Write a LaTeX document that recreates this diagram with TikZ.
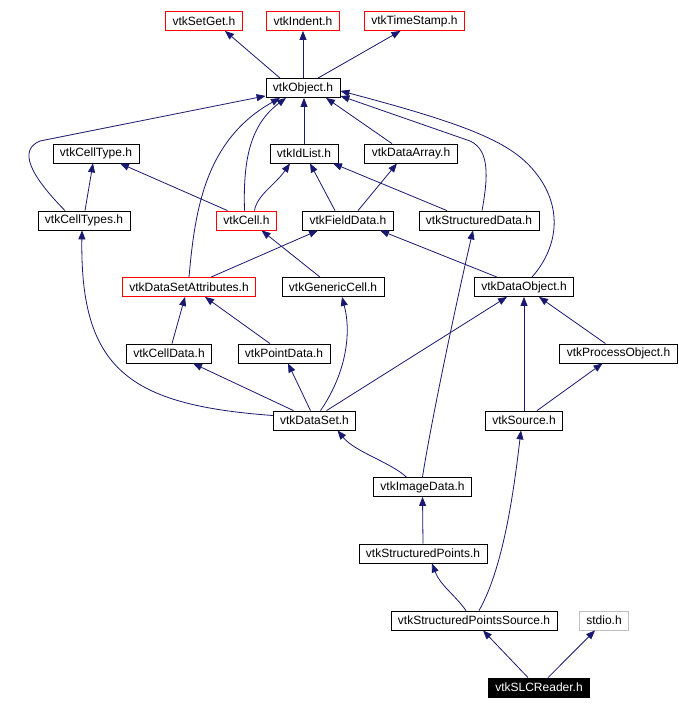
\documentclass[tikz,border=0pt]{standalone}
\usepackage{fontspec}
\setmainfont{Liberation Sans}
\usetikzlibrary{arrows.meta}
\definecolor{edgeblue}{HTML}{191970}
\definecolor{missred}{HTML}{FF0000}
\definecolor{sysgray}{HTML}{BFBFBF}

\begin{document}
\begin{tikzpicture}[
  x=1pt, y=-1pt, >=Stealth,
  hdrbox/.style={rectangle, draw=black, fill=white, line width=0.8pt, inner xsep=7pt, inner ysep=0pt, minimum height=19pt, text centered, font=\fontsize{12}{14}\selectfont},
  redbox/.style={hdrbox, draw=missred},
  sysbox/.style={hdrbox, draw=sysgray},
  rootbox/.style={hdrbox, fill=black, text=white},
  dep/.style={draw=edgeblue, line width=0.8pt, -{Triangle[length=9pt, width=7pt]}}
]

  % Canvas
  \fill[white] (0,0) rectangle (678,709);

  % ==================== TOP ROW ====================
  \node[redbox] (setget) at (204,21) {vtkSetGet.h};
  \node[redbox] (indent) at (303,21) {vtkIndent.h};
  \node[redbox] (timestamp) at (414.5,21) {vtkTimeStamp.h};
  \node[hdrbox] (obj) at (303,88) {vtkObject.h};

  % ==================== CORE CLASSES ====================
  \node[hdrbox] (celltype) at (96,153.5) {vtkCellType.h};
  \node[hdrbox] (idlist) at (304,153.5) {vtkIdList.h};
  \node[hdrbox] (dataarray) at (411,153.5) {vtkDataArray.h};

  \node[hdrbox] (celltypes) at (84,220.5) {vtkCellTypes.h};
  \node[redbox] (cell) at (246.5,220.5) {vtkCell.h};
  \node[hdrbox] (fielddata) at (348,220.5) {vtkFieldData.h};
  \node[hdrbox] (structdata) at (479,220.5) {vtkStructuredData.h};

  \node[redbox] (dsattr) at (189,287) {vtkDataSetAttributes.h};
  \node[hdrbox] (genericcell) at (333,287) {vtkGenericCell.h};
  \node[hdrbox] (dataobj) at (524,287) {vtkDataObject.h};

  \node[hdrbox] (celldata) at (169,353.5) {vtkCellData.h};
  \node[hdrbox] (pointdata) at (284,353.5) {vtkPointData.h};
  \node[hdrbox] (procobj) at (618.5,353.5) {vtkProcessObject.h};

  \node[hdrbox] (dataset) at (314.5,420.5) {vtkDataSet.h};
  \node[hdrbox] (source) at (524,420.5) {vtkSource.h};

  % ==================== IMAGE / READER ====================
  \node[hdrbox] (imagedata) at (422.5,487) {vtkImageData.h};
  \node[hdrbox] (structpts) at (423,553.5) {vtkStructuredPoints.h};
  \node[hdrbox] (spsource) at (474,620.5) {vtkStructuredPointsSource.h};
  \node[sysbox] (stdio) at (604,620.5) {stdio.h};
  \node[rootbox] (slcreader) at (539,687.5) {vtkSLCReader.h};

  % vtkObject includes
  \draw[dep] ([xshift=-23pt]obj.north) -- ([xshift=21pt]setget.south);
  \draw[dep] (obj.north) -- (indent.south);
  \draw[dep] ([xshift=15pt]obj.north) -- ([xshift=-14pt]timestamp.south);

  % into vtkObject
  \draw[dep] ([xshift=-19pt]celltypes.north) .. controls (30,175) and (18,150) .. (40,141) -- ([yshift=2pt]obj.south west);
  \draw[dep] (idlist.north) -- (idlist.north |- obj.south);
  \draw[dep] ([xshift=-19pt]dataarray.north) -- ([xshift=23pt]obj.south);
  \draw[dep] ([xshift=-2pt]cell.north) .. controls (243,160) and (250,125) .. ([xshift=-17pt]obj.south);
  \draw[dep] (dsattr.north) .. controls (195,210) and (205,140) .. ([xshift=-23pt]obj.south);
  \draw[dep] ([xshift=3pt]structdata.north) .. controls (488,178) and (490,150) .. (470,141) -- ([yshift=2pt]obj.south east);
  \draw[dep] ([xshift=8pt]dataobj.north) .. controls (560,245) and (562,205) .. (535,172) .. controls (512,143) and (470,125) .. ([yshift=7pt]obj.south east);

  % second row
  \draw[dep] ([xshift=1pt]celltypes.north) -- ([xshift=-3pt]celltype.south);
  \draw[dep] ([xshift=-19pt]cell.north) -- ([xshift=24pt]celltype.south);
  \draw[dep] ([xshift=8pt]cell.north) .. controls (257,195) and (275,185) .. ([xshift=-14pt]idlist.south);
  \draw[dep] ([xshift=-13pt]fielddata.north) -- ([xshift=6pt]idlist.south);
  \draw[dep] ([xshift=-32pt]structdata.north) -- ([xshift=29pt]idlist.south);
  \draw[dep] ([xshift=10pt]fielddata.north) -- ([xshift=-14pt]dataarray.south);

  % third row
  \draw[dep] ([xshift=22pt]dsattr.north) -- ([xshift=-30pt]fielddata.south);
  \draw[dep] ([xshift=-13pt]genericcell.north) -- ([xshift=15pt]cell.south);
  \draw[dep] ([xshift=-27pt]dataobj.north) -- ([xshift=32pt]fielddata.south);
  \draw[dep] (imagedata.north) .. controls (428,440) and (450,330) .. ([xshift=-6pt]structdata.south);

  % fourth row
  \draw[dep] ([xshift=3pt]celldata.north) -- ([xshift=-4pt]dsattr.south);
  \draw[dep] ([xshift=-14pt]pointdata.north) -- ([xshift=16pt]dsattr.south);
  \draw[dep] ([xshift=-13pt]procobj.north) -- ([xshift=15pt]dataobj.south);

  % vtkDataSet
  \draw[dep] ([xshift=6pt]dataset.north) .. controls (345,375) and (352,335) .. ([xshift=9pt]genericcell.south);
  \draw[dep] ([yshift=5pt]dataset.west) .. controls (130,405) and (80,370) .. ([xshift=-2pt]celltypes.south);
  \draw[dep] ([xshift=-21pt]dataset.north) -- ([xshift=24pt]celldata.south);
  \draw[dep] ([xshift=-4pt]dataset.north) -- ([xshift=4pt]pointdata.south);
  \draw[dep] ([xshift=12pt]dataset.north) -- ([xshift=-17pt]dataobj.south);

  % vtkSource
  \draw[dep] (source.north) -- (dataobj.south);
  \draw[dep] ([xshift=13pt]source.north) -- ([xshift=-16pt]procobj.south);

  % image data chain
  \draw[dep] ([xshift=-16pt]imagedata.north) .. controls (390,462) and (355,452) .. ([xshift=23pt]dataset.south);
  \draw[dep] (structpts.north) -- (imagedata.south);
  \draw[dep] ([xshift=-8pt]spsource.north) .. controls (455,595) and (440,585) .. ([xshift=9pt]structpts.south);
  \draw[dep] ([xshift=5pt]spsource.north) .. controls (505,565) and (515,480) .. ([xshift=-3pt]source.south);

  % vtkSLCReader
  \draw[dep] ([xshift=-11pt]slcreader.north) -- ([xshift=9pt]spsource.south);
  \draw[dep] ([xshift=9pt]slcreader.north) -- ([xshift=-9pt]stdio.south);

\end{tikzpicture}
\end{document}
